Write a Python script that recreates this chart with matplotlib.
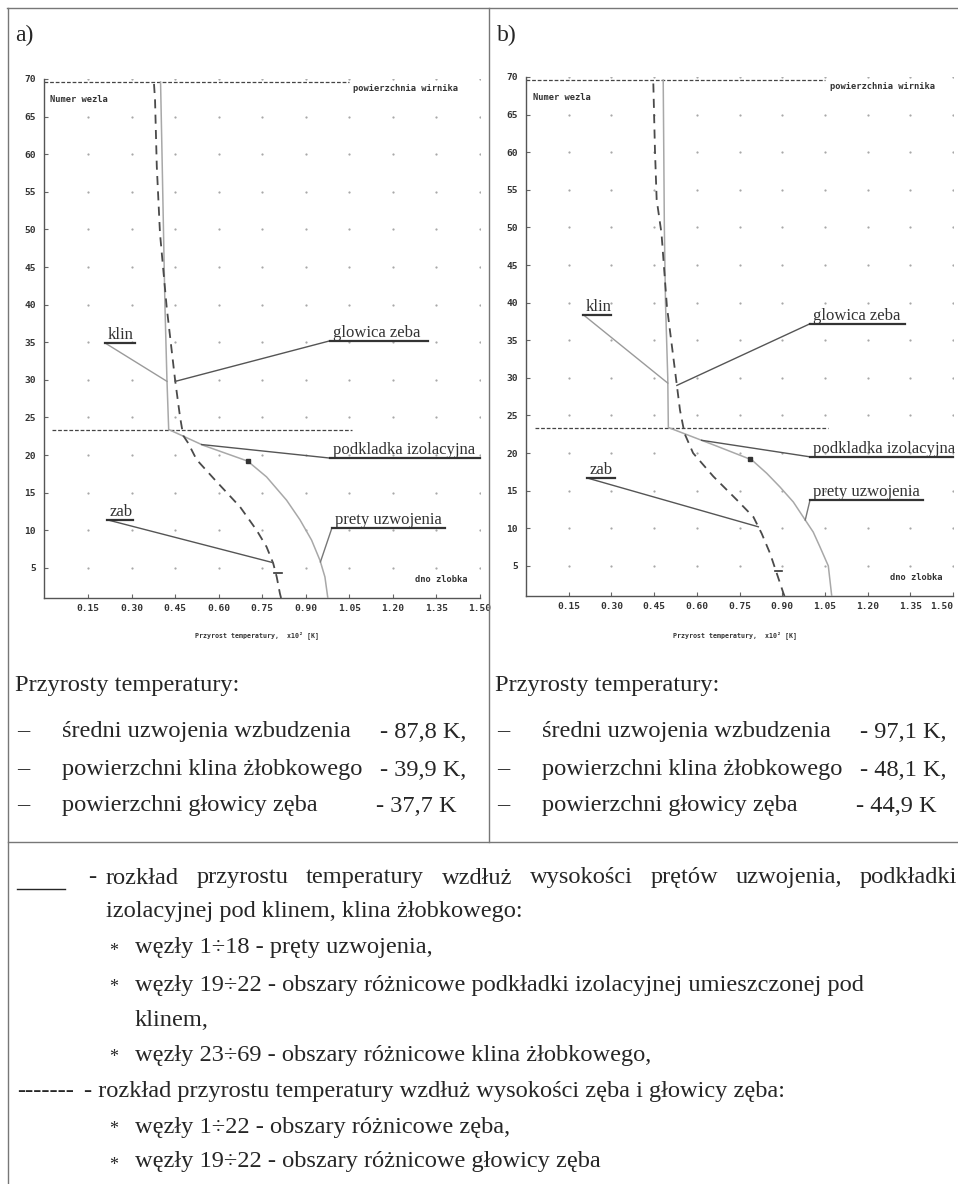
# rozklad przyrostu temperatury w zlobku wirnika, dwa warianty a) i b)
import numpy as np
import matplotlib
matplotlib.use('Agg')
import matplotlib.pyplot as plt
from matplotlib.lines import Line2D

# ----------------------------------------------------------
# data (node number vs temperature rise x10^2 K)
# ----------------------------------------------------------
a_wind_node = [1, 3.8, 6, 8.7, 11.4, 14, 17.1, 19.2, 21.3, 23.4, 30, 40, 50, 60, 69.6]
a_wind_temp = [0.976, 0.966, 0.949, 0.92, 0.88, 0.834, 0.765, 0.70, 0.547, 0.428, 0.422, 0.415, 0.41, 0.405, 0.40]
a_tooth_node = [1, 1.6, 3.8, 5.6, 7.8, 10, 13.1, 16.8, 19.4, 21.6, 22.6, 25.1, 30, 39.7, 49.5, 58.4, 67.2, 69.6]
a_tooth_temp = [0.815, 0.811, 0.80, 0.788, 0.765, 0.731, 0.674, 0.585, 0.524, 0.495, 0.478, 0.467, 0.45, 0.421, 0.398, 0.387, 0.381, 0.377]

b_wind_node = [1, 5, 7.5, 9.5, 11.5, 13.5, 15.5, 17.3, 19.1, 21, 23.4, 30, 40, 50, 60, 69.6]
b_wind_temp = [1.074, 1.062, 1.033, 1.009, 0.974, 0.939, 0.892, 0.846, 0.793, 0.665, 0.50, 0.498, 0.49, 0.486, 0.484, 0.482]
b_tooth_node = [1, 1.4, 4, 6.7, 9.3, 11.5, 13.8, 16.9, 20, 22.6, 25.7, 29.3, 39.5, 49.2, 53.7, 60.3, 69.6]
b_tooth_temp = [0.908, 0.904, 0.881, 0.857, 0.828, 0.799, 0.74, 0.658, 0.587, 0.557, 0.541, 0.529, 0.495, 0.476, 0.459, 0.453, 0.447]

x_ticks = [0.15, 0.30, 0.45, 0.60, 0.75, 0.90, 1.05, 1.20, 1.35, 1.50]
y_ticks = [5, 10, 15, 20, 25, 30, 35, 40, 45, 50, 55, 60, 65, 70]

rotor_node = 69.6      # powierzchnia wirnika
wedge_node = 23.4      # granica klin / podkladka
pad_node = 19.2        # wezel 19

a_sums = ['87,8 K,', '39,9 K,', '37,7 K']
b_sums = ['97,1 K,', '48,1 K,', '44,9 K']

# ----------------------------------------------------------
# constants
# ----------------------------------------------------------
W, H = 958, 1184
SERIF = 'Liberation Serif'
MONO = 'DejaVu Sans Mono'
INK = '#262626'
TXT = 17.6


def fx(x):
    return x / W


def fy(y):
    return 1 - y / H


fig = plt.figure(figsize=(W / 100, H / 100), dpi=100)


def panel(box, wind_n, wind_t, tooth_n, tooth_t, leaders, wedge_x0, last_right):
    l, r, t, b = box
    ax = fig.add_axes([fx(l), fy(b), (r - l) / W, (b - t) / H])
    ax.set_xlim(0, 1.5)
    ax.set_ylim(1, 70)
    for s in ['top', 'right']:
        ax.spines[s].set_visible(False)
    for s in ['left', 'bottom']:
        ax.spines[s].set_color('#555555')
        ax.spines[s].set_linewidth(1.0)
    ax.set_xticks(x_ticks)
    ax.set_yticks(y_ticks)
    ax.set_xticklabels(['%.2f' % v for v in x_ticks], fontfamily=MONO, fontweight='bold',
                       fontsize=6.8, color='#333333')
    ax.set_yticklabels([str(v) for v in y_ticks], fontfamily=MONO, fontweight='bold',
                       fontsize=6.8, color='#333333')
    if last_right:
        ax.get_xticklabels()[-1].set_ha('right')
    ax.tick_params(direction='in', length=3, width=0.8, color='#666666')
    ax.tick_params(axis='x', pad=4)
    ax.tick_params(axis='y', pad=6)
    # dot grid
    gx, gy = np.meshgrid(x_ticks, y_ticks)
    ax.scatter(gx.ravel(), gy.ravel(), s=2.6, color='#a8a8a8', linewidths=0, zorder=1)
    # boundary lines
    ax.plot([0, 1.05], [rotor_node, rotor_node], color='#444444', lw=0.9, ls=(0, (3, 1.5)), zorder=2)
    ax.plot([wedge_x0, 1.06], [wedge_node, wedge_node], color='#444444', lw=0.9, ls=(0, (3, 1.5)), zorder=2)
    # curves
    ax.plot(wind_t, wind_n, color='#a8a8a8', lw=1.1, zorder=3)
    ax.plot(tooth_t, tooth_n, color='#4a4a4a', lw=1.3, ls=(0, (5, 3.5)), zorder=3)
    ax.plot([np.interp(pad_node, wind_n, wind_t)], [pad_node], marker='s', ms=2.5,
            color='#333333', zorder=4)
    # small mark near the tooth curve
    mx = np.interp(4.3, tooth_n, tooth_t)
    ax.plot([mx - 0.005, mx + 0.02], [4.3, 4.3], color='#333333', lw=1.2, zorder=3)
    # leaders
    for label, ux0, ux1, uy, curve, node, lc in leaders:
        cn, ct = curve
        tx = np.interp(node, cn, ct)
        ax.plot([ux0, tx], [uy, node], color=lc, lw=1.0, zorder=3, clip_on=False)
        ax.plot([ux0, ux1], [uy, uy], color='#333333', lw=1.6, zorder=3, clip_on=False)
        ax.text(ux0 + 0.01, uy + 0.55, label, fontfamily=SERIF, fontsize=12, color='#333333',
                va='baseline', ha='left', clip_on=False)
    return ax


leaders_a = [
    ('klin', 0.209, 0.312, 34.9, (a_wind_node, a_wind_temp), 29.8, '#9a9a9a'),
    ('glowica zeba', 0.984, 1.321, 35.2, (a_tooth_node, a_tooth_temp), 29.8, '#555555'),
    ('podkladka izolacyjna', 0.984, 1.50, 19.6, (a_wind_node, a_wind_temp), 21.4, '#555555'),
    ('zab', 0.216, 0.305, 11.4, (a_tooth_node, a_tooth_temp), 5.7, '#555555'),
    ('prety uzwojenia', 0.99, 1.379, 10.3, (a_wind_node, a_wind_temp), 5.8, '#777777'),
]
leaders_b = [
    ('klin', 0.201, 0.30, 38.4, (b_wind_node, b_wind_temp), 29.3, '#9a9a9a'),
    ('glowica zeba', 0.998, 1.331, 37.2, (b_tooth_node, b_tooth_temp), 29.0, '#555555'),
    ('podkladka izolacyjna', 0.998, 1.50, 19.5, (b_wind_node, b_wind_temp), 21.7, '#555555'),
    ('zab', 0.214, 0.313, 16.7, (b_tooth_node, b_tooth_temp), 10.2, '#555555'),
    ('prety uzwojenia', 0.998, 1.394, 13.8, (b_wind_node, b_wind_temp), 11.1, '#777777'),
]

ax_a = panel((44.4, 480, 79, 598), a_wind_node, a_wind_temp, a_tooth_node, a_tooth_temp,
             leaders_a, 0.025, False)
ax_b = panel((526, 953, 77, 596), b_wind_node, b_wind_temp, b_tooth_node, b_tooth_temp,
             leaders_b, 0.03, True)

# small captions inside the plots
for ax, nx, px_, dx in [(ax_a, 0.02, 1.063, 1.276), (ax_b, 0.025, 1.068, 1.279)]:
    ax.text(nx, 67.3, 'Numer wezla', fontfamily=MONO, fontweight='bold', fontsize=6.3,
            color='#333333', va='center')
    ax.text(px_, 68.7, 'powierzchnia wirnika', fontfamily=MONO, fontweight='bold', fontsize=6.3,
            color='#333333', va='center', clip_on=False)
    ax.text(dx, 3.5, 'dno zlobka', fontfamily=MONO, fontweight='bold', fontsize=6.3,
            color='#333333', va='center')

for cx in [257, 735]:
    fig.text(fx(cx), fy(635), 'Przyrost temperatury,  x10² [K]', fontfamily=MONO,
             fontweight='bold', fontsize=4.8, color='#333333', ha='center', va='center')

# ----------------------------------------------------------
# frame of the page
# ----------------------------------------------------------
frame = [((7, 958), (8, 8)), ((8, 8), (8, 1184)), ((489, 489), (8, 842)), ((8, 958), (842, 842))]
for xs, ys in frame:
    fig.add_artist(Line2D([fx(v) for v in xs], [fy(v) for v in ys], transform=fig.transFigure,
                          color='#777777', lw=1.0))

fig.text(fx(15), fy(35), 'a)', fontfamily=SERIF, fontsize=17, color=INK, va='center')
fig.text(fx(497), fy(35), 'b)', fontfamily=SERIF, fontsize=17, color=INK, va='center')


def ftext(x, y, s, size=TXT, ha='left'):
    return fig.text(fx(x), fy(y), s, fontfamily=SERIF, fontsize=size, color=INK, va='center', ha=ha)


# ----------------------------------------------------------
# summaries under the plots
# ----------------------------------------------------------
items = ['średni uzwojenia wzbudzenia', 'powierzchni klina żłobkowego', 'powierzchni głowicy zęba']
rows = [732, 770, 806]
for x0, sums in [(0, a_sums), (480, b_sums)]:
    ftext(x0 + 15, 685, 'Przyrosty temperatury:')
    for item, val, yy, right in zip(items, sums, rows, [466, 466, 456]):
        ftext(x0 + 17, yy, '–')
        ftext(x0 + 62, yy, item)
        ftext(x0 + right, yy, '- ' + val, ha='right')

# ----------------------------------------------------------
# legend description
# ----------------------------------------------------------
fig.add_artist(Line2D([fx(17), fx(65)], [fy(889), fy(889)], transform=fig.transFigure,
                      color=INK, lw=1.0))
ftext(88, 878, '-')
words = 'rozkład przyrostu temperatury wzdłuż wysokości prętów uzwojenia, podkładki'.split()
wtexts = [ftext(106, 878, w) for w in words]
renderer = fig.canvas.get_renderer()
widths = [t.get_window_extent(renderer).width for t in wtexts]
gap = (957 - 106 - sum(widths)) / (len(words) - 1)
xpos = 106
for t, w in zip(wtexts, widths):
    t.set_x(fx(xpos))
    xpos += w + gap

ftext(106, 912, 'izolacyjnej pod klinem, klina żłobkowego:')
bullets = [
    (948, 'węzły 1÷18 - pręty uzwojenia,'),
    (985, 'węzły 19÷22 - obszary różnicowe podkładki izolacyjnej umieszczonej pod'),
    (1055, 'węzły 23÷69 - obszary różnicowe klina żłobkowego,'),
    (1127, 'węzły 1÷22 - obszary różnicowe zęba,'),
    (1162, 'węzły 19÷22 - obszary różnicowe głowicy zęba'),
]
for yy, s in bullets:
    ftext(109, yy + 3, '*', size=13)
    ftext(135, yy, s)
ftext(135, 1020, 'klinem,')
ftext(17, 1092, '-------')
ftext(84, 1092, '- rozkład przyrostu temperatury wzdłuż wysokości zęba i głowicy zęba:')

fig.savefig('out.png', dpi=100, facecolor='white')
